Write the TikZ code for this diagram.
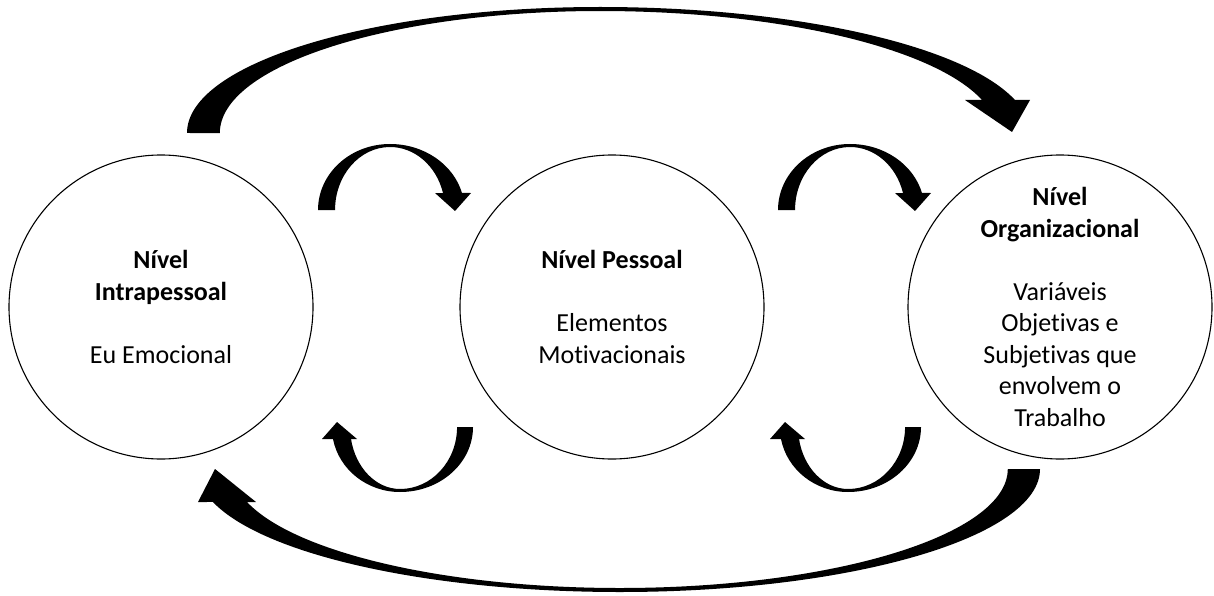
\documentclass[tikz,border=0pt]{standalone}
\usepackage{fontspec}
\setmainfont[Ligatures=NoCommon]{Carlito}

\begin{document}
\begin{tikzpicture}[x=1pt,y=-1pt,
  level/.style={draw,circle,line width=1.1pt,minimum size=304pt,inner sep=0pt,align=center,font=\fontsize{26}{31.5}\selectfont},
  blockarrow/.style={fill=black}]

\useasboundingbox (0,0) rectangle (1214,596);

%Circles
\node[level] (intra) at (161,307) {\textbf{Nível}\\\textbf{Intrapessoal}\\[31.5pt]Eu Emocional};
\node[level] (pessoal) at (612,307) {\textbf{Nível Pessoal}\\[31.5pt]Elementos\\Motivacionais};
\node[level] (organiz) at (1060,307) {\textbf{Nível}\\\textbf{Organizacional}\\[31.5pt]Variáveis\\Objetivas e\\Subjetivas que\\envolvem o\\Trabalho};

%Big arrow on top
\fill[blockarrow] (187,133) arc[start angle=180,end angle=270,x radius=413,y radius=126]
  arc[start angle=270,end angle=344.8,x radius=430,y radius=126]
  -- (1030,100) -- (1012,132) -- (965,100) -- (982,100)
  arc[start angle=344.3,end angle=270,x radius=397,y radius=122]
  arc[start angle=270,end angle=180,x radius=380,y radius=122] -- cycle;

%Big arrow at the bottom
\fill[blockarrow] (1040,469) arc[start angle=0,end angle=90,x radius=420,y radius=123]
  arc[start angle=90,end angle=164.44,x radius=422.6,y radius=123]
  -- (198,502) -- (215,469) -- (256,502) -- (247,502)
  arc[start angle=163.9,end angle=90,x radius=388,y radius=119]
  arc[start angle=90,end angle=0,x radius=388,y radius=119] -- cycle;

%Small arrows on top
\fill[blockarrow] (318,210) arc[start angle=180,end angle=270,x radius=72,y radius=66]
  arc[start angle=270,end angle=345.07,x radius=74.5,y radius=66]
  -- (471,193) -- (455,211) -- (435,193) -- (443,193)
  arc[start angle=344.34,end angle=270,x radius=55,y radius=63]
  arc[start angle=270,end angle=180,x radius=55,y radius=63] -- cycle;
\fill[blockarrow] (778,210) arc[start angle=180,end angle=270,x radius=72,y radius=66]
  arc[start angle=270,end angle=345.07,x radius=74.5,y radius=66]
  -- (931,193) -- (915,211) -- (895,193) -- (903,193)
  arc[start angle=344.34,end angle=270,x radius=55,y radius=63]
  arc[start angle=270,end angle=180,x radius=55,y radius=63] -- cycle;

%Small arrows at the bottom
\fill[blockarrow] (473,427) arc[start angle=0,end angle=90,x radius=73,y radius=65]
  arc[start angle=90,end angle=169.36,x radius=68.2,y radius=65]
  -- (322,439) -- (337,422) -- (357,439) -- (351,439)
  arc[start angle=168.84,end angle=90,x radius=50,y radius=62]
  arc[start angle=90,end angle=0,x radius=57,y radius=62] -- cycle;
\fill[blockarrow] (921,427) arc[start angle=0,end angle=90,x radius=73,y radius=65]
  arc[start angle=90,end angle=169.36,x radius=68.2,y radius=65]
  -- (770,439) -- (785,422) -- (805,439) -- (799,439)
  arc[start angle=168.84,end angle=90,x radius=50,y radius=62]
  arc[start angle=90,end angle=0,x radius=57,y radius=62] -- cycle;

\end{tikzpicture}
\end{document}
